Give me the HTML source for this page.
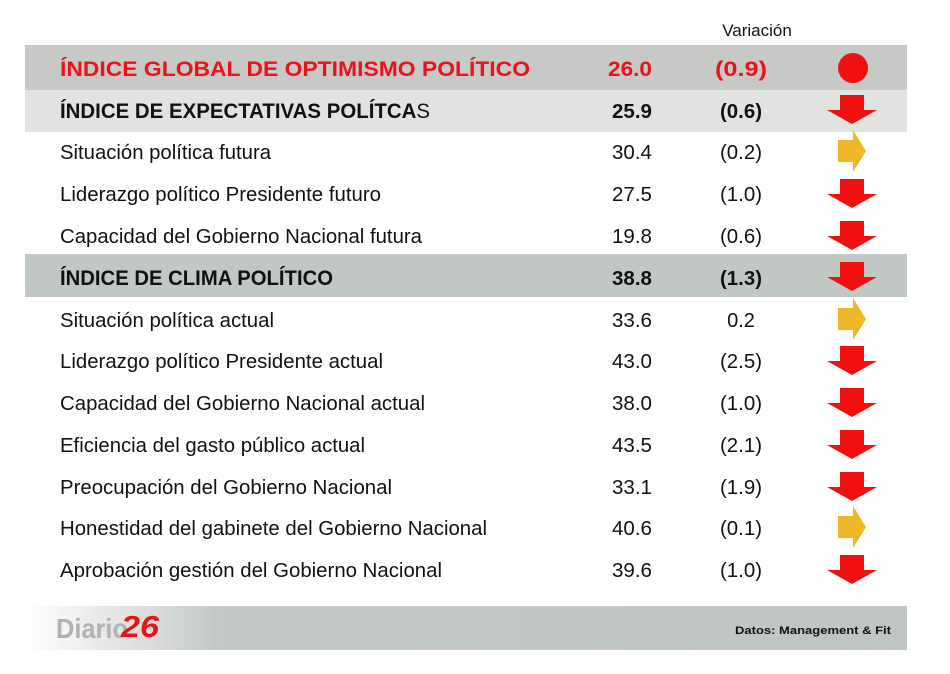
<!DOCTYPE html>
<html><head><meta charset="utf-8"><style>
html,body{margin:0;padding:0;background:#fff;}
svg{display:block;}
</style></head><body>
<svg width="950" height="674" viewBox="0 0 950 674" xmlns="http://www.w3.org/2000/svg" font-family="Liberation Sans, Arial, sans-serif">
<defs>
<linearGradient id="fg" x1="0" x2="1" y1="0" y2="0">
<stop offset="0" stop-color="#ffffff"/>
<stop offset="0.22" stop-color="#c4c9c5"/>
<stop offset="1" stop-color="#bfc5c1"/>
</linearGradient>
<g id="dn"><polygon points="-12,-15 12,-15 12,0 25,0 0,14 -25,0 -12,0" fill="#f01010"/></g>
<g id="rt"><polygon points="-15,-12 0,-12 0,-22 13,-1 0,20 0,10 -15,10" fill="#f0b828"/></g>
</defs>
<rect x="0" y="0" width="950" height="674" fill="#fff"/>
<text x="757" y="36" font-size="17" text-anchor="middle" fill="#111">Variación</text>
<rect x="25" y="45" width="882" height="45" fill="#c6c9c6"/>
<rect x="25" y="90" width="882" height="42" fill="#e1e3e1"/>
<rect x="25" y="254" width="882" height="43" fill="#c1c7c3"/>
<rect x="25" y="606" width="882" height="44" fill="url(#fg)"/>

<g font-size="20" fill="#111">
<text x="60" y="76" font-size="21" fill="#e8141a" font-weight="bold" textLength="470" lengthAdjust="spacingAndGlyphs">ÍNDICE GLOBAL DE OPTIMISMO POLÍTICO</text>
<text x="652" y="76" font-size="21" fill="#e8141a" font-weight="bold" text-anchor="end" textLength="44" lengthAdjust="spacingAndGlyphs">26.0</text>
<text x="741" y="76" font-size="21" fill="#e8141a" font-weight="bold" text-anchor="middle" textLength="52" lengthAdjust="spacingAndGlyphs">(0.9)</text>
<circle cx="853" cy="68" r="15" fill="#f01010"/>

<text x="60" y="118" font-size="21" font-weight="bold" textLength="370" lengthAdjust="spacingAndGlyphs">ÍNDICE DE EXPECTATIVAS POLÍTCA<tspan font-weight="normal">S</tspan></text>
<text x="652" y="118" font-weight="bold" text-anchor="end" textLength="40" lengthAdjust="spacingAndGlyphs">25.9</text>
<text x="741" y="118" font-weight="bold" text-anchor="middle" textLength="42" lengthAdjust="spacingAndGlyphs">(0.6)</text>
<use href="#dn" x="852" y="110"/>

<text x="60" y="159" textLength="211" lengthAdjust="spacingAndGlyphs">Situación política futura</text>
<text x="652" y="159" text-anchor="end" textLength="40" lengthAdjust="spacingAndGlyphs">30.4</text>
<text x="741" y="159" text-anchor="middle" textLength="42" lengthAdjust="spacingAndGlyphs">(0.2)</text>
<use href="#rt" x="853" y="152"/>

<text x="60" y="201" textLength="321" lengthAdjust="spacingAndGlyphs">Liderazgo político Presidente futuro</text>
<text x="652" y="201" text-anchor="end" textLength="40" lengthAdjust="spacingAndGlyphs">27.5</text>
<text x="741" y="201" text-anchor="middle" textLength="42" lengthAdjust="spacingAndGlyphs">(1.0)</text>
<use href="#dn" x="852" y="194"/>

<text x="60" y="243" textLength="362" lengthAdjust="spacingAndGlyphs">Capacidad del Gobierno Nacional futura</text>
<text x="652" y="243" text-anchor="end" textLength="40" lengthAdjust="spacingAndGlyphs">19.8</text>
<text x="741" y="243" text-anchor="middle" textLength="42" lengthAdjust="spacingAndGlyphs">(0.6)</text>
<use href="#dn" x="852" y="236"/>

<text x="60" y="285" font-size="21" font-weight="bold" textLength="273" lengthAdjust="spacingAndGlyphs">ÍNDICE DE CLIMA POLÍTICO</text>
<text x="652" y="285" font-weight="bold" text-anchor="end" textLength="40" lengthAdjust="spacingAndGlyphs">38.8</text>
<text x="741" y="285" font-weight="bold" text-anchor="middle" textLength="42" lengthAdjust="spacingAndGlyphs">(1.3)</text>
<use href="#dn" x="852" y="277"/>

<text x="60" y="327" textLength="214" lengthAdjust="spacingAndGlyphs">Situación política actual</text>
<text x="652" y="327" text-anchor="end" textLength="40" lengthAdjust="spacingAndGlyphs">33.6</text>
<text x="741" y="327" text-anchor="middle">0.2</text>
<use href="#rt" x="853" y="320"/>

<text x="60" y="368" textLength="323" lengthAdjust="spacingAndGlyphs">Liderazgo político Presidente actual</text>
<text x="652" y="368" text-anchor="end" textLength="40" lengthAdjust="spacingAndGlyphs">43.0</text>
<text x="741" y="368" text-anchor="middle" textLength="42" lengthAdjust="spacingAndGlyphs">(2.5)</text>
<use href="#dn" x="852" y="361"/>

<text x="60" y="410" textLength="365" lengthAdjust="spacingAndGlyphs">Capacidad del Gobierno Nacional actual</text>
<text x="652" y="410" text-anchor="end" textLength="40" lengthAdjust="spacingAndGlyphs">38.0</text>
<text x="741" y="410" text-anchor="middle" textLength="42" lengthAdjust="spacingAndGlyphs">(1.0)</text>
<use href="#dn" x="852" y="403"/>

<text x="60" y="452" textLength="305" lengthAdjust="spacingAndGlyphs">Eficiencia del gasto público actual</text>
<text x="652" y="452" text-anchor="end" textLength="40" lengthAdjust="spacingAndGlyphs">43.5</text>
<text x="741" y="452" text-anchor="middle" textLength="42" lengthAdjust="spacingAndGlyphs">(2.1)</text>
<use href="#dn" x="852" y="445"/>

<text x="60" y="494" textLength="332" lengthAdjust="spacingAndGlyphs">Preocupación del Gobierno Nacional</text>
<text x="652" y="494" text-anchor="end" textLength="40" lengthAdjust="spacingAndGlyphs">33.1</text>
<text x="741" y="494" text-anchor="middle" textLength="42" lengthAdjust="spacingAndGlyphs">(1.9)</text>
<use href="#dn" x="852" y="487"/>

<text x="60" y="535" textLength="427" lengthAdjust="spacingAndGlyphs">Honestidad del gabinete del Gobierno Nacional</text>
<text x="652" y="535" text-anchor="end" textLength="40" lengthAdjust="spacingAndGlyphs">40.6</text>
<text x="741" y="535" text-anchor="middle" textLength="42" lengthAdjust="spacingAndGlyphs">(0.1)</text>
<use href="#rt" x="853" y="528"/>

<text x="60" y="577" textLength="382" lengthAdjust="spacingAndGlyphs">Aprobación gestión del Gobierno Nacional</text>
<text x="652" y="577" text-anchor="end" textLength="40" lengthAdjust="spacingAndGlyphs">39.6</text>
<text x="741" y="577" text-anchor="middle" textLength="42" lengthAdjust="spacingAndGlyphs">(1.0)</text>
<use href="#dn" x="852" y="570"/>
</g>

<text x="56" y="638" font-size="28" font-weight="bold" fill="#b0b2b4" textLength="72" lengthAdjust="spacingAndGlyphs">Diario</text>
<text x="121" y="637" font-size="31" font-weight="bold" font-style="italic" fill="#e8141a" textLength="38" lengthAdjust="spacingAndGlyphs">26</text>
<text x="735" y="634" font-size="11" font-weight="bold" fill="#111" textLength="156" lengthAdjust="spacingAndGlyphs">Datos: Management &amp; Fit</text>
</svg>
</body></html>
